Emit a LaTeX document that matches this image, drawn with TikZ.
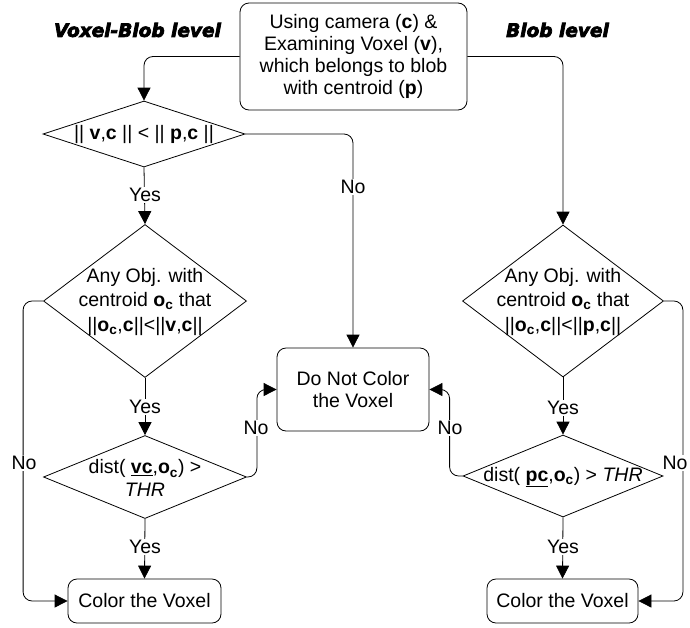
\documentclass[tikz,border=0pt]{standalone}
\usepackage{fontspec}
\setmainfont{Liberation Sans}
\newfontfamily\titlefont[BoldItalicFeatures={FakeBold=4}]{DejaVu Sans}
\usetikzlibrary{shapes.geometric,arrows.meta}
\newcommand\ocsub{\textbf{o\textsubscript{c}}}
\tikzset{
  box/.style={draw, rounded corners=9pt, line width=0.8pt, inner sep=0pt, align=center},
  dia/.style={draw, diamond, line width=0.8pt, inner sep=0pt},
  txt/.style={align=center, inner sep=0pt},
  lab/.style={fill=white, inner sep=1pt},
  arr/.style={draw, line width=0.8pt, -{Triangle[length=13pt,width=13pt]}, rounded corners=9pt},
  ttl/.style={font=\titlefont\bfseries\itshape\fontsize{18.5}{20}\selectfont}
}
\begin{document}
\begin{tikzpicture}[x=1pt,y=-1pt,font=\fontsize{19.5}{22.3}\selectfont]
\useasboundingbox (0,0) rectangle (690,627);
% titles
\node[ttl] (t1) at (137.5,30) {Voxel-Blob level};
\node[ttl] (t2) at (557.5,30) {Blob level};
% boxes
\node[box, minimum width=227pt, minimum height=107pt] (top) at (353.5,56.5)
  {Using camera (\textbf{c}) \&\\Examining Voxel (\textbf{v}),\\which belongs to blob\\with centroid (\textbf{p})};
\node[box, minimum width=152pt, minimum height=83pt] (dn) at (353,389.5) {Do Not Color\\the Voxel};
\node[box, minimum width=153pt, minimum height=44pt] (c1) at (144.5,601) {Color the Voxel};
\node[box, minimum width=151pt, minimum height=44pt] (c2) at (562.5,601) {Color the Voxel};
% diamonds
\node[dia, minimum width=202pt, minimum height=66pt] (d1) at (144,134) {};
\node[dia, minimum width=203pt, minimum height=153pt] (d2) at (145,301) {};
\node[dia, minimum width=203pt, minimum height=83pt] (d4) at (145,477) {};
\node[dia, minimum width=201pt, minimum height=152pt] (d3) at (563,301) {};
\node[dia, minimum width=200pt, minimum height=82pt] (d5) at (563,476) {};
% diamond texts
\node[txt] (d1t) at (144,134) {|| \textbf{v},\textbf{c} || < || \textbf{p},\textbf{c} ||};
\node[txt] (d2t) at (145,302) {Any Obj. with\\[1pt]centroid \ocsub{} that\\[3pt]||\ocsub,\textbf{c}||<||\textbf{v},\textbf{c}||};
\node[txt] (d3t) at (563,302) {Any Obj. with\\[1pt]centroid \ocsub{} that\\[3pt]||\ocsub,\textbf{c}||<||\textbf{p},\textbf{c}||};
\node[txt] (d4t) at (145,478) {dist( \underline{\textbf{vc}},\ocsub) >\\\textit{THR}};
\node[txt] (d5t) at (563,477) {dist( \underline{\textbf{pc}},\ocsub) > \textit{THR}};
% connectors
\draw[arr] (top.west) -| (d1.north);
\draw[arr] (top.east) -| (d3.north);
\draw[arr] (d1.east) -| (dn.north);
\draw[arr] (d1.south) -- (d2.north);
\draw[arr] (d2.south) -- (d4.north);
\draw[arr] (d4.south) -- (c1.north);
\draw[arr] (d2.west) -- ++(-20,0) |- (c1.west);
\draw[arr] (d4.east) -- ++(10,0) |- (dn.west);
\draw[arr] (d3.south) -- (d5.north);
\draw[arr] (d5.south) -- (c2.north);
\draw[arr] (d5.west) -- ++(-13,0) |- (dn.east);
\draw[arr] (d3.east) -- ++(19,0) |- (c2.east);
% labels
\node[lab] (n1) at (353,187) {No};
\node[lab] (y1) at (145,195) {Yes};
\node[lab] (y2) at (145,407) {Yes};
\node[lab] (y3) at (145,547) {Yes};
\node[lab] (n2) at (24,463) {No};
\node[lab] (n3) at (256,428) {No};
\node[lab] (n4) at (450,428) {No};
\node[lab] (y4) at (563,408) {Yes};
\node[lab] (y5) at (563,547) {Yes};
\node[lab] (n5) at (675,463) {No};
\end{tikzpicture}
\end{document}
